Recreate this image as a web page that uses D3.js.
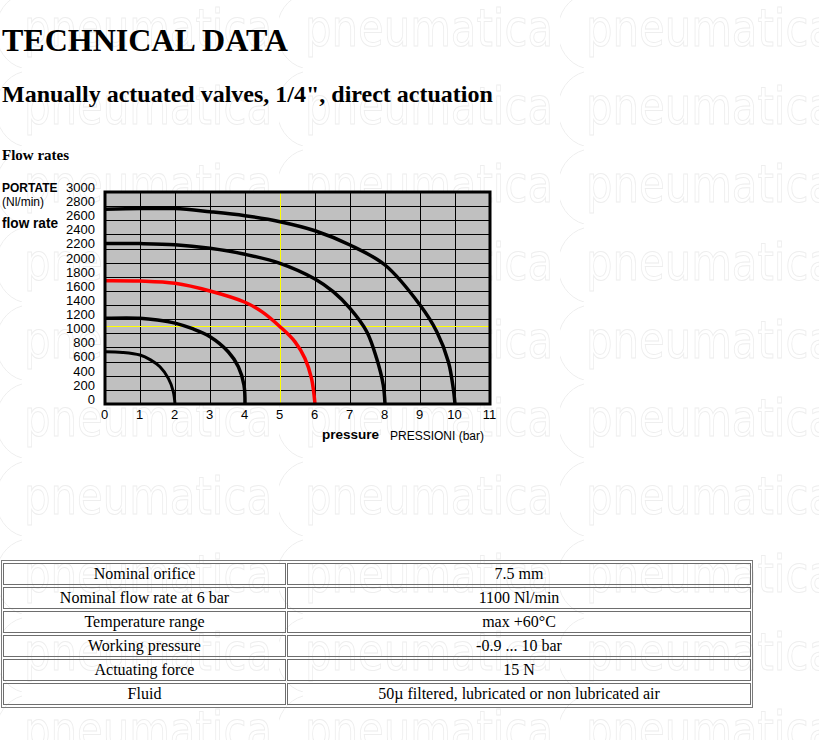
<!doctype html>
<html>
<head>
<meta charset="utf-8" />
<title>Technical data</title>
<script src="https://cdn.jsdelivr.net/npm/d3@7"></script>
<style>
  body { margin: 0; background: #fff; }
  svg { display: block; }
</style>
</head>
<body>
<script>
// flow curves: [pressure (bar), flow (Nl/min)]
var curve2bar  = [[0, 740], [0.5, 730], [1, 693], [1.3, 625], [1.57, 528], [1.81, 363], [1.95, 180], [2, 0]];
var curve4bar  = [[0, 1215], [1, 1215], [1.5, 1190], [2, 1145], [2.5, 1065], [3, 952], [3.52, 740], [3.81, 528], [3.97, 269], [4, 0]];
var curve6bar  = [[0, 1745], [1, 1740], [2, 1708], [3, 1599], [4, 1440], [4.5, 1300], [5, 1094], [5.43, 880], [5.71, 646], [5.9, 363], [6, 0]];
var curve8bar  = [[0, 2270], [1, 2270], [2, 2255], [3, 2203], [4, 2118], [5, 1991], [6, 1769], [6.52, 1589], [7, 1354], [7.48, 1023], [7.76, 646], [7.95, 269], [8, 0]];
var curve10bar = [[0, 2755], [1, 2765], [2, 2765], [3, 2721], [4, 2665], [5, 2580], [6, 2452], [7, 2250], [8, 1967], [9, 1401], [9.48, 1023], [9.81, 599], [9.95, 222], [10, 0]];

var xTicks = d3.range(0, 12);          // 0 .. 11 bar
var yTicks = d3.range(0, 3001, 200);   // 0 .. 3000 Nl/min
var markPressure = 5;
var markFlow = 1100;

var tableLabels = ['Nominal orifice', 'Nominal flow rate at 6 bar', 'Temperature range',
                   'Working pressure', 'Actuating force', 'Fluid'];
var tableValues = ['7.5 mm', '1100 Nl/min', 'max +60°C', '-0.9 ... 10 bar', '15 N',
                   '50\u00b5 filtered, lubricated or non lubricated air'];

var serif = '"Liberation Serif", "Times New Roman", serif';
var sans = '"Liberation Sans", Arial, sans-serif';

var svg = d3.select('body').append('svg')
    .attr('width', 819)
    .attr('height', 740);

// faint logo watermark behind the page
var pat = svg.append('defs').append('pattern')
    .attr('id', 'wm')
    .attr('patternUnits', 'userSpaceOnUse')
    .attr('x', -2).attr('y', 68)
    .attr('width', 281).attr('height', 78);
pat.append('path')
    .attr('d', 'M24,4 A34,38 0 0 0 24,78')
    .attr('fill', 'none').attr('stroke', '#eeeeee').attr('stroke-width', 1);
pat.append('text')
    .attr('x', 26).attr('y', 56)
    .attr('font-family', '"DejaVu Sans", sans-serif')
    .attr('font-size', 52)
    .attr('textLength', 248)
    .attr('lengthAdjust', 'spacingAndGlyphs')
    .attr('fill', 'none').attr('stroke', '#eeeeee').attr('stroke-width', 1)
    .text('pneumatica');
svg.append('rect').attr('width', 819).attr('height', 740).attr('fill', 'url(#wm)');

// headings
svg.append('text').attr('x', 2).attr('y', 50.5)
    .attr('font-family', serif).attr('font-weight', 'bold').attr('font-size', 32)
    .text('TECHNICAL DATA');
svg.append('text').attr('x', 2).attr('y', 102)
    .attr('font-family', serif).attr('font-weight', 'bold').attr('font-size', 24)
    .text('Manually actuated valves, 1/4", direct actuation');
svg.append('text').attr('x', 2).attr('y', 159.5)
    .attr('font-family', serif).attr('font-weight', 'bold').attr('font-size', 15)
    .text('Flow rates');

// chart
var x = d3.scaleLinear().domain([0, 11]).range([105, 490]);
var y = d3.scaleLinear().domain([0, 3000]).range([404, 192]);

var chart = svg.append('g');

chart.append('rect')
    .attr('x', x(0)).attr('y', y(3000))
    .attr('width', x(11) - x(0)).attr('height', y(0) - y(3000))
    .attr('fill', '#c0c0c0');

chart.selectAll('line.vgrid')
    .data(xTicks.filter(function(d) { return d > 0 && d < 11 && d !== markPressure; }))
    .enter().append('line')
    .attr('class', 'vgrid')
    .attr('x1', function(d) { return Math.round(x(d)) + 0.5; })
    .attr('x2', function(d) { return Math.round(x(d)) + 0.5; })
    .attr('y1', y(3000)).attr('y2', y(0))
    .attr('stroke', '#000').attr('stroke-width', 1);

chart.selectAll('line.hgrid')
    .data(yTicks.filter(function(d) { return d > 0 && d < 3000; }))
    .enter().append('line')
    .attr('class', 'hgrid')
    .attr('x1', x(0)).attr('x2', x(11))
    .attr('y1', function(d) { return Math.round(y(d)) + 0.5; })
    .attr('y2', function(d) { return Math.round(y(d)) + 0.5; })
    .attr('stroke', '#000').attr('stroke-width', 1);

// yellow reference lines
chart.append('line')
    .attr('x1', Math.round(x(markPressure)) + 0.5).attr('x2', Math.round(x(markPressure)) + 0.5)
    .attr('y1', y(3000)).attr('y2', y(0))
    .attr('stroke', '#ffff00').attr('stroke-width', 1);
chart.append('line')
    .attr('x1', x(0)).attr('x2', x(11))
    .attr('y1', Math.round(y(markFlow)) + 0.5).attr('y2', Math.round(y(markFlow)) + 0.5)
    .attr('stroke', '#ffff00').attr('stroke-width', 1.2);

var line = d3.line()
    .x(function(d) { return x(d[0]); })
    .y(function(d) { return y(d[1]); })
    .curve(d3.curveCatmullRom.alpha(0.5));

var series = [
    { values: curve2bar, color: '#000', width: 3 },
    { values: curve4bar, color: '#000', width: 3.5 },
    { values: curve8bar, color: '#000', width: 3.5 },
    { values: curve10bar, color: '#000', width: 3.5 },
    { values: curve6bar, color: '#ff0000', width: 3.5 }
];

chart.selectAll('path.flow')
    .data(series)
    .enter().append('path')
    .attr('class', 'flow')
    .attr('d', function(d) { return line(d.values); })
    .attr('fill', 'none')
    .attr('stroke', function(d) { return d.color; })
    .attr('stroke-width', function(d) { return d.width; });

// frame
chart.append('rect')
    .attr('x', x(0)).attr('y', y(3000))
    .attr('width', x(11) - x(0)).attr('height', y(0) - y(3000))
    .attr('fill', 'none').attr('stroke', '#000').attr('stroke-width', 3);

// axes labels
var yAxis = d3.axisLeft(y).tickValues(yTicks).tickFormat(d3.format('d')).tickSize(0).tickPadding(10);
var gy = chart.append('g').attr('transform', 'translate(' + x(0) + ',0)').call(yAxis);
gy.select('.domain').remove();
gy.selectAll('text')
    .attr('font-family', sans).attr('font-size', 13)
    .attr('dy', '-0.05em').attr('fill', '#000');

var xAxis = d3.axisBottom(x).tickValues(xTicks).tickFormat(d3.format('d')).tickSize(0).tickPadding(6);
var gx = chart.append('g').attr('transform', 'translate(-1,' + y(0) + ')').call(xAxis);
gx.select('.domain').remove();
gx.selectAll('text')
    .attr('font-family', sans).attr('font-size', 13).attr('fill', '#000');

chart.append('text').attr('x', 2).attr('y', 191.5)
    .attr('font-family', sans).attr('font-weight', 'bold').attr('font-size', 12)
    .text('PORTATE');
chart.append('text').attr('x', 2).attr('y', 205.5)
    .attr('font-family', sans).attr('font-size', 12)
    .text('(Nl/min)');
chart.append('text').attr('x', 2).attr('y', 227.5)
    .attr('font-family', sans).attr('font-weight', 'bold').attr('font-size', 15)
    .attr('textLength', 56).attr('lengthAdjust', 'spacingAndGlyphs')
    .text('flow rate');
chart.append('text').attr('x', 322).attr('y', 439)
    .attr('font-family', sans).attr('font-weight', 'bold').attr('font-size', 13.5)
    .text('pressure');
chart.append('text').attr('x', 390).attr('y', 440)
    .attr('font-family', sans).attr('font-size', 12)
    .text('PRESSIONI (bar)');

// data table
var table = svg.append('g');
table.append('rect')
    .attr('x', 1.5).attr('y', 560.5).attr('width', 751).attr('height', 147)
    .attr('fill', 'none').attr('stroke', '#7a7a7a');

var rows = table.selectAll('g.row')
    .data(tableLabels.map(function(l, i) { return [l, tableValues[i]]; }))
    .enter().append('g')
    .attr('class', 'row')
    .attr('transform', function(d, i) { return 'translate(0,' + (563 + i * 24) + ')'; });

var cols = [{ x: 3.5, w: 282 }, { x: 287.5, w: 463 }];
cols.forEach(function(c, j) {
    rows.append('rect')
        .attr('x', c.x).attr('y', 0.5).attr('width', c.w).attr('height', 21)
        .attr('fill', 'none').attr('stroke', '#6e6e6e');
    rows.append('text')
        .attr('x', c.x + c.w / 2).attr('y', 16)
        .attr('text-anchor', 'middle')
        .attr('font-family', serif).attr('font-size', 16)
        .text(function(d) { return d[j]; });
});
</script>
</body>
</html>
